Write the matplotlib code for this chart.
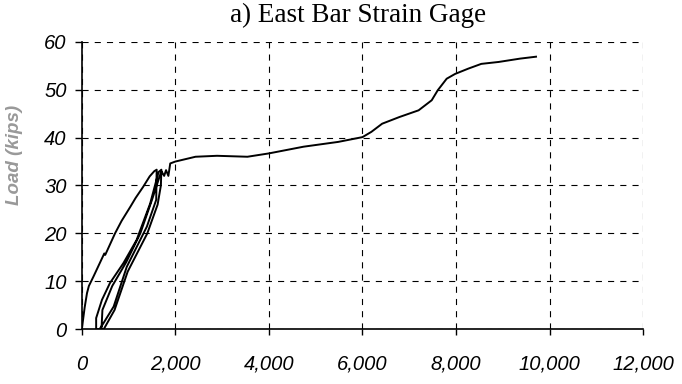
import matplotlib
matplotlib.use("Agg")
from matplotlib import pyplot as plt
from matplotlib.ticker import FuncFormatter

# strain (microstrain) and load (kips), traced along the recorded path
strain = [0, 60, 110, 150, 250, 480, 500, 710, 850, 1040, 1150, 1310, 1450, 1550, 1600,
          1590, 1390, 960, 680, 460, 380,
          306, 306, 430, 600, 890, 1170, 1460, 1640,
          1700, 1690, 1620, 1400, 980, 700, 470,
          420, 440, 650, 950, 1250, 1500, 1700,
          1760, 1800, 1850, 1890, 2000,
          2430, 2890, 3540, 4000, 4740, 5480, 6000, 6190, 6420, 6790,
          7200, 7480, 7610, 7800, 7980, 8260, 8540, 8910, 9370, 9710]
load = [0, 4.5, 7.5, 9.0, 11.0, 15.8, 15.5, 20.0, 22.6, 25.6, 27.4, 29.7, 31.9, 33.0, 33.3,
        27.0, 21.4, 13.0, 4.7, 1.2, 0,
        0, 2.3, 6.1, 9.6, 13.8, 18.6, 26.2, 32.8,
        33.3, 30.0, 26.0, 20.0, 12.0, 4.0, 0,
        0, 4.0, 9.0, 14.0, 20.0, 27.0, 33.0,
        32.0, 33.2, 32.0, 34.6, 35.0,
        36.0, 36.2, 36.0, 36.7, 38.1, 39.1, 40.1, 41.2, 42.9, 44.3,
        45.7, 47.8, 49.9, 52.3, 53.3, 54.4, 55.4, 55.8, 56.5, 56.9]

x_ticks = [0, 2000, 4000, 6000, 8000, 10000, 12000]
y_ticks = [0, 10, 20, 30, 40, 50, 60]

fig = plt.figure(figsize=(6.82, 3.84), dpi=100)
ax = fig.add_axes([0.120, 0.143, 0.823, 0.748])

ax.plot(strain, load, color="black", lw=1.4, zorder=3)

ax.set_xlim(0, 12000)
ax.set_ylim(0, 60)
ax.set_xticks(x_ticks)
ax.set_yticks(y_ticks)
ax.xaxis.set_major_formatter(FuncFormatter(lambda v, p: "{:,.0f}".format(v)))

ax.grid(True, color="black", lw=0.8, linestyle=(0, (5.5, 5.5)))
ax.set_axisbelow(True)
for s in ["top", "right"]:
    ax.spines[s].set_visible(False)
for s in ["left", "bottom"]:
    ax.spines[s].set_linewidth(1.2)

for lbl in ax.get_xticklabels() + ax.get_yticklabels():
    lbl.set_fontfamily("Liberation Sans")
    lbl.set_fontstyle("italic")
    lbl.set_fontsize(14.5)
ax.tick_params(axis="x", direction="out", length=4.5, width=1, pad=14)
ax.tick_params(axis="y", direction="out", length=5, width=1, pad=6)

ax.set_ylabel("Load (kips)", family="Liberation Sans", style="italic",
              weight="bold", size=13.5, color="#999999")
ax.yaxis.set_label_coords(-0.105, 0.606)

fig.text(0.525, 1 - 22 / 384, "a) East Bar Strain Gage", family="Liberation Serif",
         size=19.5, ha="center", va="baseline")

fig.savefig("out.png", dpi=100)
